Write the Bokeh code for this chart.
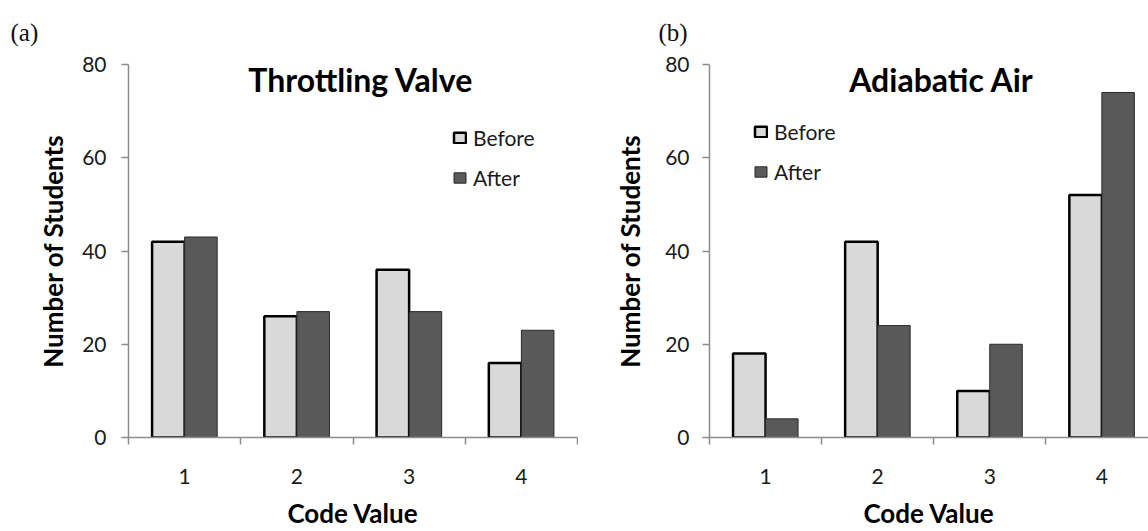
from bokeh.plotting import figure
from bokeh.layouts import row
from bokeh.models import Range1d, FixedTicker, Label, Legend, LegendItem, ColumnDataSource
from bokeh.transform import dodge
from bokeh.embed import file_html
from bokeh.resources import INLINE

# ---- data ----
codes = [1, 2, 3, 4]
code_labels = ["1", "2", "3", "4"]
tv_before = [42, 26, 36, 16]
tv_after = [43, 27, 27, 23]
aa_before = [18, 42, 10, 52]
aa_after = [4, 24, 20, 74]
y_ticks = [0, 20, 40, 60, 80]
series_names = ["Before", "After"]

FONT = "Lato"
AXIS_GRAY = "#8c8c8c"


def make_panel(tag, title, before, after, width, border_left, border_right, x_end,
               legend_loc, ytick_standoff, ylab_standoff, title_x, tag_offset, tag_standoff,
               tag_line_height):
    src = ColumnDataSource(dict(code=codes, before=before, after=after))
    p = figure(width=width, height=531, x_range=Range1d(0.5, x_end), y_range=Range1d(0, 80),
               output_backend="svg", toolbar_location=None, title=tag,
               min_border_left=border_left, min_border_right=border_right,
               min_border_top=64, min_border_bottom=92)
    p.outline_line_color = None
    p.xgrid.visible = False
    p.ygrid.visible = False
    p.background_fill_color = "white"
    p.border_fill_color = "white"

    # panel tag "(a)" / "(b)"
    p.title.align = "left"
    p.title.vertical_align = "top"
    p.title.offset = tag_offset
    p.title.standoff = tag_standoff
    p.title.text_line_height = tag_line_height
    p.title.text_font = "Liberation Serif"
    p.title.text_font_size = "25px"
    p.title.text_font_style = "normal"
    p.title.text_color = "#111111"

    rb = p.vbar(x=dodge("code", -0.145, range=p.x_range), top="before", width=0.29, bottom=0,
                source=src, fill_color="#d9d9d9", line_color="#000000", line_width=2.5)
    ra = p.vbar(x=dodge("code", 0.145, range=p.x_range), top="after", width=0.29, bottom=0,
                source=src, fill_color="#595959", line_color="#2a2a2a", line_width=1)

    # x axis
    xa = p.xaxis[0]
    xa.ticker = FixedTicker(ticks=codes, minor_ticks=[c - 0.5 for c in codes] + [codes[-1] + 0.5])
    xa.major_label_overrides = {c: l for c, l in zip(codes, code_labels)}
    xa.major_tick_out = 0
    xa.major_tick_in = 0
    xa.minor_tick_out = 7
    xa.minor_tick_in = 0
    xa.minor_tick_line_color = AXIS_GRAY
    xa.minor_tick_line_width = 1.5
    xa.axis_line_color = AXIS_GRAY
    xa.axis_line_width = 1.5
    xa.major_label_standoff = 24
    xa.major_label_text_font = FONT
    xa.major_label_text_font_size = "21px"
    xa.major_label_text_color = "#1a1a1a"
    xa.axis_label = "Code Value"
    xa.axis_label_standoff = 10
    xa.axis_label_text_font = FONT
    xa.axis_label_text_font_size = "26px"
    xa.axis_label_text_font_style = "bold"
    xa.axis_label_text_color = "#000000"

    # y axis
    ya = p.yaxis[0]
    ya.ticker = FixedTicker(ticks=y_ticks)
    ya.minor_tick_out = 0
    ya.minor_tick_in = 0
    ya.major_tick_out = 7
    ya.major_tick_in = 0
    ya.major_tick_line_color = AXIS_GRAY
    ya.major_tick_line_width = 1.5
    ya.axis_line_color = AXIS_GRAY
    ya.axis_line_width = 1.5
    ya.major_label_standoff = ytick_standoff
    ya.major_label_text_font = FONT
    ya.major_label_text_font_size = "21px"
    ya.major_label_text_color = "#1a1a1a"
    ya.axis_label = "Number of Students"
    ya.axis_label_standoff = ylab_standoff
    ya.axis_label_text_font = FONT
    ya.axis_label_text_font_size = "26px"
    ya.axis_label_text_font_style = "bold"
    ya.axis_label_text_color = "#000000"

    legend = Legend(items=[LegendItem(label=series_names[0], renderers=[rb]),
                           LegendItem(label=series_names[1], renderers=[ra])],
                    location=legend_loc, orientation="vertical",
                    padding=0, margin=0, spacing=15,
                    glyph_width=15, glyph_height=13, label_standoff=6,
                    label_height=20, label_text_font=FONT, label_text_font_size="21px",
                    label_text_color="#1a1a1a",
                    border_line_alpha=0, background_fill_alpha=0)
    p.add_layout(legend, "center")

    p.add_layout(Label(x=title_x, y=76.8, text=title, text_align="center",
                       text_baseline="middle", text_font=FONT, text_font_size="32px",
                       text_font_style="bold", text_color="#000000"))
    return p


pa = make_panel("(a)", "Throttling Valve", tv_before, tv_after, width=578, border_left=128,
                border_right=1, x_end=4.5, legend_loc=(324, 247), ytick_standoff=15,
                ylab_standoff=10, title_x=2.57, tag_offset=-118, tag_standoff=34,
                tag_line_height=1.2)
pb = make_panel("(b)", "Adiabatic Air", aa_before, aa_after, width=570, border_left=131,
                border_right=0, x_end=4.416, legend_loc=(44, 253), ytick_standoff=13,
                ylab_standoff=16, title_x=2.57, tag_offset=-51, tag_standoff=34,
                tag_line_height=1.2)

layout = row(pa, pb)
open("out.html", "w").write(file_html(layout, INLINE))
